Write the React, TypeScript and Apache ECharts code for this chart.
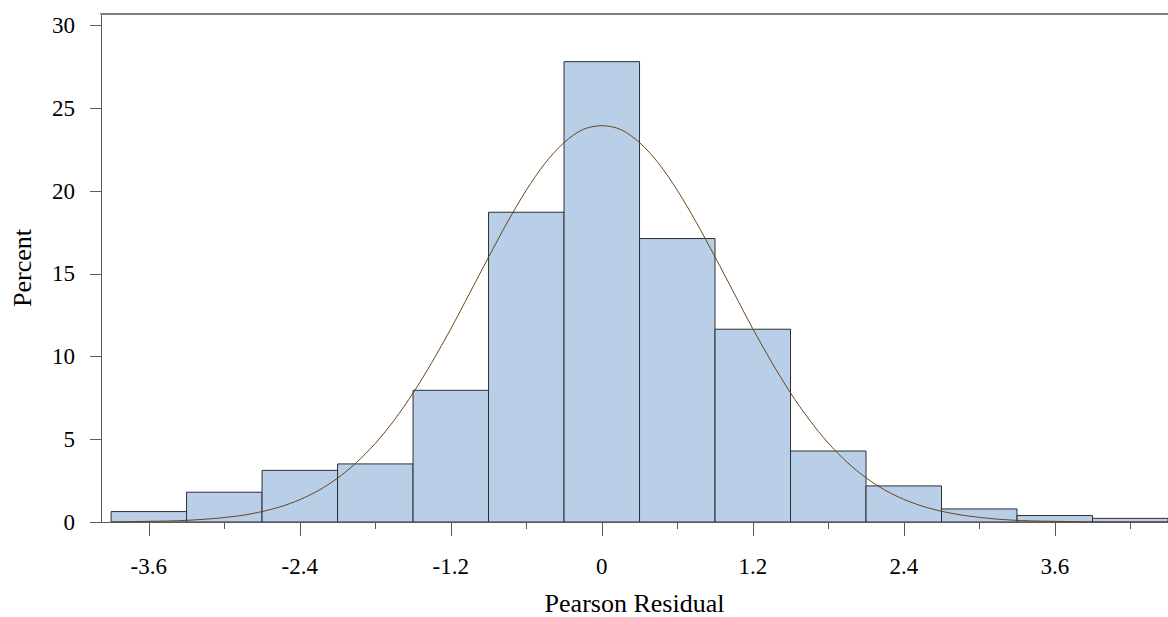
import React, { useEffect, useRef } from "react";
import * as echarts from "echarts";

// Histogram bins (centres, percent)
const binCenters = [-3.6, -3.0, -2.4, -1.8, -1.2, -0.6, 0, 0.6, 1.2, 1.8, 2.4, 3.0, 3.6, 4.2];
const binPercent = [0.63, 1.8, 3.12, 3.51, 7.96, 18.72, 27.82, 17.13, 11.65, 4.29, 2.18, 0.79, 0.39, 0.22];
const binWidth = 0.6;

// Fitted curve
const curveX = [
  -3.9, -3.75, -3.6, -3.45, -3.3, -3.15, -3.0, -2.85, -2.7, -2.55, -2.4, -2.25, -2.1, -1.95, -1.8, -1.65,
  -1.5, -1.35, -1.2, -1.05, -0.9, -0.75, -0.6, -0.45, -0.3, -0.15, 0, 0.15, 0.3, 0.45, 0.6, 0.75, 0.9,
  1.05, 1.2, 1.35, 1.5, 1.65, 1.8, 1.95, 2.1, 2.25, 2.4, 2.55, 2.7, 2.85, 3.0, 3.15, 3.3, 3.45, 3.6, 3.75,
  3.9, 4.05, 4.2, 4.35, 4.5,
];
const curveY = [
  0.01, 0.02, 0.04, 0.06, 0.1, 0.17, 0.27, 0.41, 0.63, 0.93, 1.35, 1.91, 2.65, 3.59, 4.75, 6.15,
  7.79, 9.65, 11.67, 13.83, 16.0, 18.12, 20.05, 21.69, 22.93, 23.72, 23.95, 23.72, 22.93, 21.69, 20.05, 18.12, 16.02,
  13.85, 11.68, 9.66, 7.8, 6.17, 4.77, 3.61, 2.67, 1.93, 1.37, 0.95, 0.65, 0.43, 0.28, 0.17, 0.1, 0.06, 0.04, 0.02,
  0.01, 0.0, 0.0, 0.0, 0.0,
];

// Axis ticks
const yTicks = [0, 5, 10, 15, 20, 25, 30];
const xLabelTicks = [-3.6, -2.4, -1.2, 0, 1.2, 2.4, 3.6];
const xMinorTicks = [-3.6, -3.0, -2.4, -1.8, -1.2, -0.6, 0, 0.6, 1.2, 1.8, 2.4, 3.0, 3.6, 4.2];

const X_MIN = -3.98;
const X_MAX = 4.5;
const Y_MAX = 30.7;

const FONT = "Liberation Serif";
const AXIS_COLOR = "#5a5a5a";

export default function App() {
  const ref = useRef<HTMLDivElement>(null);

  useEffect(() => {
    if (!ref.current) return;
    const chart = echarts.init(ref.current, null, { renderer: "svg" });
    const histData = binCenters.map((c, i) => [c, binPercent[i]]);
    const curveData = curveX.map((x, i) => [x, curveY[i]]);

    chart.setOption({
      animation: false,
      backgroundColor: "#ffffff",
      grid: {
        left: 101,
        right: 0,
        top: 14,
        bottom: 95,
        containLabel: false,
        outerBoundsMode: "none",
      },
      xAxis: [
        {
          type: "value",
          min: X_MIN,
          max: X_MAX,
          position: "bottom",
          name: "Pearson Residual",
          nameLocation: "middle",
          nameGap: 68,
          nameTextStyle: { fontFamily: FONT, fontSize: 26, lineHeight: 26, color: "#000" },
          axisLine: { show: true, onZero: false, lineStyle: { color: AXIS_COLOR, width: 1 } },
          axisTick: { show: true, customValues: xMinorTicks, length: 7, lineStyle: { color: AXIS_COLOR } },
          axisLabel: {
            show: true,
            customValues: xLabelTicks,
            margin: 33,
            fontFamily: FONT,
            fontSize: 23,
            color: "#000",
            formatter: (v: number) => (Math.abs(v) < 1e-9 ? "0" : v.toFixed(1)),
          },
          splitLine: { show: false },
        },
        {
          type: "value",
          min: X_MIN,
          max: X_MAX,
          position: "bottom",
          axisLine: { show: false, onZero: false },
          axisTick: { show: true, customValues: xLabelTicks, length: 14, lineStyle: { color: AXIS_COLOR } },
          axisLabel: { show: false },
          splitLine: { show: false },
        },
        {
          type: "value",
          min: X_MIN,
          max: X_MAX,
          position: "top",
          axisLine: { show: true, onZero: false, lineStyle: { color: "#808080", width: 2 } },
          axisTick: { show: false },
          axisLabel: { show: false },
          splitLine: { show: false },
        },
      ],
      yAxis: {
        type: "value",
        min: 0,
        max: Y_MAX,
        position: "left",
        name: "Percent",
        nameLocation: "middle",
        nameGap: 66,
        nameRotate: 90,
        nameTextStyle: { fontFamily: FONT, fontSize: 26, color: "#000" },
        axisLine: { show: true, onZero: false, lineStyle: { color: AXIS_COLOR, width: 1 } },
        axisTick: { show: true, customValues: yTicks, length: 11, lineStyle: { color: AXIS_COLOR } },
        axisLabel: {
          show: true,
          customValues: yTicks,
          margin: 26,
          fontFamily: FONT,
          fontSize: 23,
          color: "#000",
        },
        splitLine: { show: false },
      },
      series: [
        {
          type: "custom",
          xAxisIndex: 0,
          yAxisIndex: 0,
          clip: true,
          data: histData,
          renderItem: (params: any, api: any) => {
            const x = api.value(0);
            const v = api.value(1);
            const p0 = api.coord([x - binWidth / 2, v]);
            const p1 = api.coord([x + binWidth / 2, 0]);
            return {
              type: "rect",
              shape: { x: p0[0], y: p0[1], width: p1[0] - p0[0], height: p1[1] - p0[1] },
              style: { fill: "#b9cee7", stroke: "#2b2f36", lineWidth: 1 },
            };
          },
          z: 2,
        },
        {
          type: "line",
          xAxisIndex: 0,
          yAxisIndex: 0,
          data: curveData,
          smooth: 0.3,
          symbol: "none",
          lineStyle: { color: "#6b4418", width: 1 },
          z: 3,
        },
      ],
    });

    return () => chart.dispose();
  }, []);

  return (
    <div
      ref={ref}
      style={{ position: "absolute", left: 0, top: 0, width: 1168, height: 617 }}
    />
  );
}
